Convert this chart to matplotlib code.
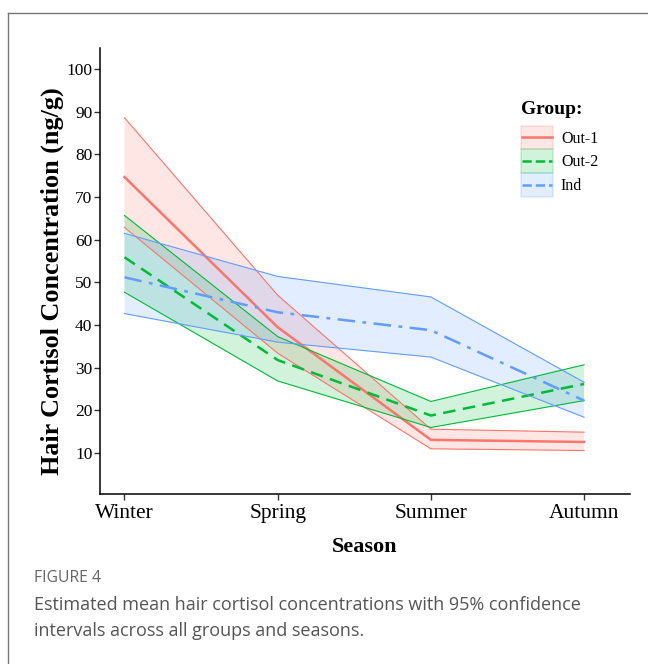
import numpy as np
import matplotlib
matplotlib.use("Agg")
import matplotlib.pyplot as plt
from matplotlib.lines import Line2D
from matplotlib.patches import Patch
from matplotlib.legend_handler import HandlerBase

seasons = ["Winter", "Spring", "Summer", "Autumn"]
groups = ["Out-1", "Out-2", "Ind"]

# estimated means and 95% CI bounds per season
out1_mean = [74.7, 39.5, 13.1, 12.6]
out1_low = [62.9, 33.4, 11.0, 10.6]
out1_high = [88.6, 47.0, 15.6, 14.9]

out2_mean = [55.9, 31.8, 18.8, 26.2]
out2_low = [47.7, 26.9, 16.0, 22.3]
out2_high = [65.7, 37.3, 22.1, 30.7]

ind_mean = [51.2, 43.0, 38.8, 22.3]
ind_low = [42.7, 36.0, 32.5, 18.4]
ind_high = [61.5, 51.4, 46.6, 26.6]

colors = ["#F8766D", "#00BA38", "#619CFF"]
styles = ["-", (0, (5, 3)), (0, (7, 3, 1.5, 3))]


class CenteredLine(HandlerBase):
    # legend line drawn through the middle of the key box
    def create_artists(self, legend, orig, xdescent, ydescent, width, height,
                       fontsize, trans):
        y = height / 2 - ydescent
        ln = Line2D([-xdescent + 1, width - xdescent - 1], [y, y],
                    color=orig.get_color(), lw=orig.get_linewidth(),
                    linestyle=orig.get_linestyle())
        ln.set_transform(trans)
        return [ln]


plt.rcParams["font.family"] = ["Liberation Serif", "DejaVu Serif"]

fig = plt.figure(figsize=(6.48, 6.64), dpi=100)
ax = fig.add_axes([0.1543, 0.256, 0.818, 0.672])

x = np.arange(len(seasons))
data = [(out1_mean, out1_low, out1_high),
        (out2_mean, out2_low, out2_high),
        (ind_mean, ind_low, ind_high)]

handles = []
for (m, lo, hi), c, ls, g in zip(data, colors, styles, groups):
    ax.fill_between(x, lo, hi, facecolor=c, alpha=0.18, edgecolor="none")
    ax.plot(x, lo, color=c, lw=0.8)
    ax.plot(x, hi, color=c, lw=0.8)
    ax.plot(x, m, color=c, lw=1.8, linestyle=ls)
    handles.append((Patch(facecolor=c, alpha=0.18, edgecolor=c, lw=1.2),
                    Line2D([], [], color=c, lw=1.8, linestyle=ls)))

ax.set_xlim(-0.16, 3.3)
ax.set_ylim(0.4, 105)
ax.set_xticks(x)
ax.set_xticklabels(seasons)
ax.set_yticks(np.arange(10, 101, 10))
ax.tick_params(length=4, width=1, color="#333333")
ax.tick_params(axis="x", labelsize=15.5, pad=3)
ax.tick_params(axis="y", labelsize=12.5, pad=1.5)
for s in ["top", "right"]:
    ax.spines[s].set_visible(False)
for s in ["left", "bottom"]:
    ax.spines[s].set_linewidth(1.1)

ax.set_xlabel("Season", fontsize=16, fontweight="bold", labelpad=10)
fig.text(52 / 648, 1 - 281 / 664, "Hair Cortisol Concentration (ng/g)",
         fontsize=18.8, fontweight="bold", rotation=90,
         ha="center", va="center")

leg = fig.legend(handles, groups, title="Group:", loc="upper left",
                 bbox_to_anchor=(513 / 648, 1 - 93 / 664), frameon=False,
                 fontsize=11.5, title_fontproperties={"weight": "bold", "size": 14},
                 handlelength=2.0, handleheight=1.9, labelspacing=0.0,
                 borderpad=0, handletextpad=0.5,
                 handler_map={Line2D: CenteredLine()})
leg._legend_box.align = "left"
leg._legend_box.sep = 5.5

# outer frame of the figure panel
fig.add_artist(Line2D([8 / 648, 8 / 648], [0, 1 - 13 / 664],
                      transform=fig.transFigure, color="#777777", lw=1))
fig.add_artist(Line2D([8 / 648, 1], [1 - 13 / 664, 1 - 13 / 664],
                      transform=fig.transFigure, color="#777777", lw=1))

fig.text(34 / 648, 1 - 578 / 664, "FIGURE 4", fontsize=11.3, color="#666666",
         family=["Open Sans", "DejaVu Sans"], va="center")
fig.text(34 / 648, 1 - 605 / 664,
         "Estimated mean hair cortisol concentrations with 95% confidence",
         fontsize=13, color="#555555", family=["Open Sans", "DejaVu Sans"],
         va="center")
fig.text(34 / 648, 1 - 631 / 664,
         "intervals across all groups and seasons.",
         fontsize=13, color="#555555", family=["Open Sans", "DejaVu Sans"],
         va="center")

fig.savefig("out.png", dpi=100)
